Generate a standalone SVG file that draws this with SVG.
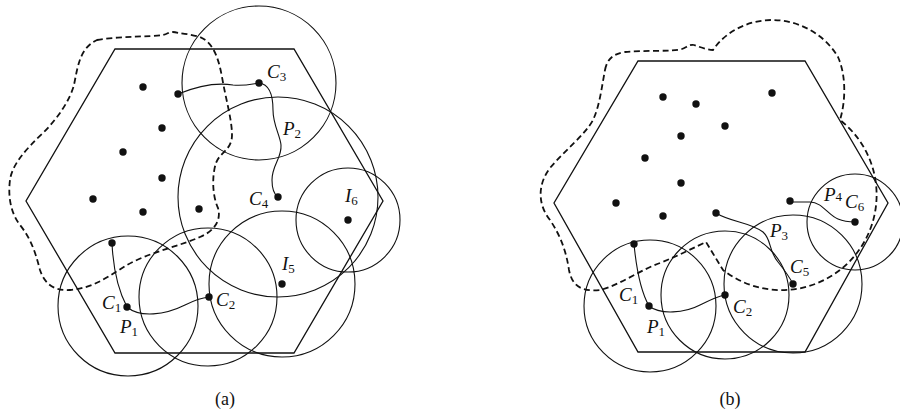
<svg xmlns="http://www.w3.org/2000/svg" width="900" height="413" viewBox="0 0 900 413">
<style>
.hex{fill:none;stroke:#111;stroke-width:1.3}
.cir{fill:none;stroke:#111;stroke-width:1.1}
.dash{fill:none;stroke:#111;stroke-width:1.8;stroke-dasharray:6 3.5}
.con{fill:none;stroke:#111;stroke-width:1.1}
.dot{fill:#111}
.lbl{font-family:"Liberation Serif","Times New Roman",serif;font-style:italic;font-size:19px;fill:#111}
.sub{font-style:normal;font-size:13px}
.cap{font-family:"Liberation Serif","Times New Roman",serif;font-size:18px;fill:#111;text-anchor:middle}
</style>
<rect width="900" height="413" fill="#fff"/>
<g id="panel-a">
  <polygon class="hex" points="115,49 294,49 383,201 294,353 115,353 26,201"/>
  <g id="circles-a">
    <circle class="cir" cx="259" cy="83" r="77"/>
    <circle class="cir" cx="278" cy="197" r="100"/>
    <circle class="cir" cx="348" cy="220" r="52"/>
    <circle class="cir" cx="282" cy="284" r="73"/>
    <circle class="cir" cx="208" cy="297" r="69"/>
    <circle class="cir" cx="128" cy="306" r="70"/>
  </g>
  <path id="boundary-a" class="dash" d="M 97 40 C 120 36, 150 37, 163 35 C 168 34, 170 31, 173 32 C 178 33, 190 34, 200 37 C 212 42, 218 55, 222 77 C 226 100, 232 120, 232 135 C 232 150, 220 152, 216 163 C 212 175, 212 195, 218 208 C 222 222, 212 232, 200 237 C 180 246, 150 252, 127 265 C 110 275, 95 288, 70 290 C 55 291, 45 285, 40 270 C 36 255, 32 240, 20 225 C 10 212, 8 195, 10 180 C 12 165, 25 150, 43 133 C 58 118, 70 100, 74 85 C 78 65, 80 48, 97 40 Z"/>
  <g id="connectors-a">
    <path class="con" d="M 178 94 C 195 87, 215 82, 233 85 C 245 86, 252 84, 259 83"/>
    <path class="con" d="M 259 83 C 268 84, 273 92, 273 110 C 273 125, 280 135, 281 145 C 282 158, 272 165, 272 180 C 272 190, 275 195, 278 197"/>
    <path class="con" d="M 112 243 C 113 265, 118 290, 127 307"/>
    <path class="con" d="M 127 307 C 140 318, 165 315, 185 305 C 195 300, 200 298, 209 297"/>
  </g>
  <g id="dots-a">
    <circle class="dot" cx="143" cy="87" r="3.7"/>
    <circle class="dot" cx="178" cy="94" r="3.7"/>
    <circle class="dot" cx="162" cy="128" r="3.7"/>
    <circle class="dot" cx="123" cy="152" r="3.7"/>
    <circle class="dot" cx="162" cy="178" r="3.7"/>
    <circle class="dot" cx="93" cy="199" r="3.7"/>
    <circle class="dot" cx="143" cy="212" r="3.7"/>
    <circle class="dot" cx="199" cy="209" r="3.7"/>
    <circle class="dot" cx="112" cy="243" r="3.7"/>
    <circle class="dot" cx="127" cy="307" r="3.7"/>
    <circle class="dot" cx="209" cy="297" r="3.7"/>
    <circle class="dot" cx="259" cy="83" r="3.7"/>
    <circle class="dot" cx="278" cy="197" r="3.7"/>
    <circle class="dot" cx="348" cy="220" r="3.7"/>
    <circle class="dot" cx="282" cy="284" r="3.7"/>
  </g>
  <g id="labels-a">
    <text class="lbl" x="267" y="78">C<tspan class="sub" dy="3">3</tspan></text>
    <text class="lbl" x="283" y="135">P<tspan class="sub" dy="3">2</tspan></text>
    <text class="lbl" x="249" y="205">C<tspan class="sub" dy="3">4</tspan></text>
    <text class="lbl" x="345" y="202">I<tspan class="sub" dy="3">6</tspan></text>
    <text class="lbl" x="282" y="270">I<tspan class="sub" dy="3">5</tspan></text>
    <text class="lbl" x="216" y="306">C<tspan class="sub" dy="3">2</tspan></text>
    <text class="lbl" x="102" y="309">C<tspan class="sub" dy="3">1</tspan></text>
    <text class="lbl" x="120" y="333">P<tspan class="sub" dy="3">1</tspan></text>
  </g>
  <text class="cap" x="225" y="405">(a)</text>
</g>
<g id="panel-b">
  <polygon class="hex" points="638,61 805,61 888,203 805,352 638,352 554,203"/>
  <g id="circles-b">
    <circle class="cir" cx="650" cy="306" r="66"/>
    <circle class="cir" cx="725" cy="295" r="64"/>
    <circle class="cir" cx="793" cy="284" r="69"/>
    <circle class="cir" cx="855" cy="222" r="48"/>
  </g>
  <path id="boundary-b" class="dash" d="M 605 70 C 607 60, 612 54, 625 52 C 645 50, 670 52, 682 49 C 687 47, 690 44, 694 45 C 700 47, 707 50, 713 50 C 725 32, 748 20, 772 20 C 800 20, 825 35, 838 57 C 846 75, 846 100, 840 120 A 95 95 0 1 1 723 270 L 706 242 C 695 247, 680 255, 660 263 C 640 270, 620 285, 600 290 C 580 292, 572 285, 569 270 C 566 250, 560 235, 550 220 C 538 205, 537 185, 550 168 C 565 150, 585 135, 593 120 C 600 105, 602 85, 605 70 Z"/>
  <g id="connectors-b">
    <path class="con" d="M 634 244 C 636 265, 640 290, 649 306"/>
    <path class="con" d="M 649 306 C 660 315, 685 313, 700 305 C 710 300, 718 296, 725 295"/>
    <path class="con" d="M 716 213 C 730 222, 750 222, 763 232 C 772 240, 768 250, 778 262 C 786 272, 790 278, 793 284"/>
    <path class="con" d="M 790 202 L 810 202 C 822 202, 828 215, 838 219 C 845 222, 850 222, 855 222"/>
  </g>
  <g id="dots-b">
    <circle class="dot" cx="663" cy="97" r="3.7"/>
    <circle class="dot" cx="696" cy="104" r="3.7"/>
    <circle class="dot" cx="772" cy="93" r="3.7"/>
    <circle class="dot" cx="681" cy="136" r="3.7"/>
    <circle class="dot" cx="725" cy="126" r="3.7"/>
    <circle class="dot" cx="645" cy="158" r="3.7"/>
    <circle class="dot" cx="681" cy="183" r="3.7"/>
    <circle class="dot" cx="616" cy="203" r="3.7"/>
    <circle class="dot" cx="663" cy="216" r="3.7"/>
    <circle class="dot" cx="716" cy="213" r="3.7"/>
    <circle class="dot" cx="790" cy="201" r="3.7"/>
    <circle class="dot" cx="634" cy="244" r="3.7"/>
    <circle class="dot" cx="649" cy="306" r="3.7"/>
    <circle class="dot" cx="725" cy="295" r="3.7"/>
    <circle class="dot" cx="793" cy="284" r="3.7"/>
    <circle class="dot" cx="855" cy="222" r="3.7"/>
  </g>
  <g id="labels-b">
    <text class="lbl" x="824" y="201">P<tspan class="sub" dy="0">4</tspan></text>
    <text class="lbl" x="845" y="208">C<tspan class="sub" dy="3">6</tspan></text>
    <text class="lbl" x="770" y="237">P<tspan class="sub" dy="3">3</tspan></text>
    <text class="lbl" x="790" y="273">C<tspan class="sub" dy="3">5</tspan></text>
    <text class="lbl" x="733" y="313">C<tspan class="sub" dy="3">2</tspan></text>
    <text class="lbl" x="619" y="301">C<tspan class="sub" dy="3">1</tspan></text>
    <text class="lbl" x="647" y="333">P<tspan class="sub" dy="3">1</tspan></text>
  </g>
  <text class="cap" x="730" y="405">(b)</text>
</g>
</svg>
